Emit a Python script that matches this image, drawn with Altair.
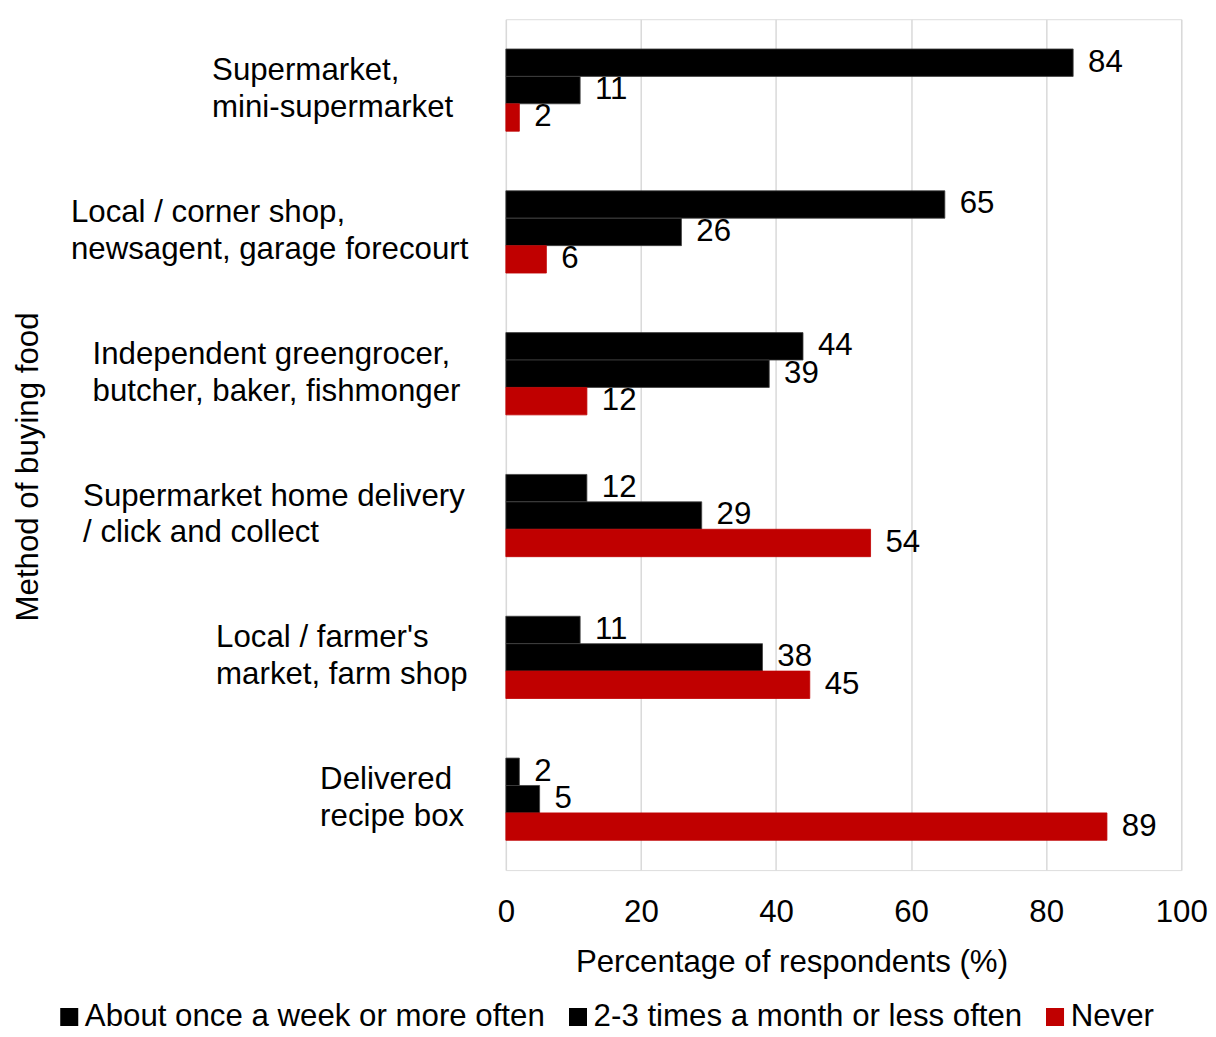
import altair as alt
import pandas as pd

categories = [
    "Supermarket,\nmini-supermarket",
    "Local / corner shop,\nnewsagent, garage forecourt",
    "Independent greengrocer,\nbutcher, baker, fishmonger",
    "Supermarket home delivery\n/ click and collect",
    "Local / farmer's\nmarket, farm shop",
    "Delivered\nrecipe box",
]
series = ["About once a week or more often", "2-3 times a month or less often", "Never"]
weekly = [84, 65, 44, 12, 11, 2]
monthly = [11, 26, 39, 29, 38, 5]
never = [2, 6, 12, 54, 45, 89]
colors = ["#000000", "#000000", "#C00000"]
strokes = ["#404040", "#404040", "#C00000"]

# where each left-aligned category label block starts, in axis units (label layout only)
label_start = [-43.5, -64.4, -61.2, -62.6, -42.9, -27.5]

rows = []
for i, c in enumerate(categories):
    for s, vals in zip(series, [weekly, monthly, never]):
        rows.append({"cat": c, "series": s, "value": vals[i]})
df = pd.DataFrame(rows)
lab_df = pd.DataFrame({"cat": categories, "start": label_start})

FONT = "Liberation Sans"
FS = 31.5

yenc = alt.Y(
    "cat:N",
    sort=categories,
    scale=alt.Scale(paddingInner=0.42, paddingOuter=0.21),
    axis=alt.Axis(
        title="Method of buying food",
        labels=False,
        ticks=False,
        domain=False,
        grid=False,
        titleFontSize=FS,
        titleFont=FONT,
        titleFontWeight="normal",
        titleColor="#000000",
        titleX=-465,
        titleY=451,
    ),
)

base = alt.Chart(df).encode(
    y=yenc,
    yOffset=alt.YOffset("series:N", sort=series, scale=alt.Scale(paddingInner=0, paddingOuter=0)),
)

bars = base.mark_bar(strokeWidth=0.8).encode(
    x=alt.X(
        "value:Q",
        scale=alt.Scale(domain=[0, 100]),
        axis=alt.Axis(
            title="Percentage of respondents (%)",
            values=[0, 20, 40, 60, 80, 100],
            grid=True,
            gridColor="#D9D9D9",
            gridWidth=1.5,
            ticks=False,
            domain=False,
            labelFlush=False,
            labelFontSize=FS,
            labelFont=FONT,
            labelColor="#000000",
            labelPadding=27,
            titleFontSize=FS,
            titleFont=FONT,
            titleFontWeight="normal",
            titleColor="#000000",
            titlePadding=19,
            titleX=288,
        ),
    ),
    color=alt.Color(
        "series:N",
        sort=series,
        scale=alt.Scale(domain=series, range=colors),
        legend=alt.Legend(
            title=None,
            orient="none",
            legendX=-456,
            legendY=990,
            direction="horizontal",
            symbolType="square",
            symbolSize=330,
            symbolStrokeWidth=0,
            labelFontSize=FS,
            labelFont=FONT,
            labelColor="#000000",
            labelLimit=800,
            columnPadding=17,
            labelOffset=0,
        ),
    ),
    stroke=alt.Stroke("series:N", sort=series, scale=alt.Scale(domain=series, range=strokes), legend=None),
)

values_txt = base.mark_text(align="left", baseline="middle", dx=15, fontSize=FS, font=FONT, color="#000000").encode(
    x="value:Q",
    text="value:Q",
)

cat_txt = alt.Chart(lab_df).mark_text(
    align="left", baseline="middle", lineBreak="\n", lineHeight=37, dy=-19,
    fontSize=FS, font=FONT, color="#000000",
).encode(
    y=alt.Y("cat:N", sort=categories),
    x="start:Q",
    text="cat:N",
)

chart = (
    alt.layer(bars, values_txt, cat_txt)
    .properties(width=681, height=858, padding={"left": 4, "right": 0, "top": 7, "bottom": 0})
    .configure_view(strokeWidth=0)
    .configure(background="#FFFFFF")
)

chart.save("out.html", embed_options={"renderer": "svg", "actions": False})
